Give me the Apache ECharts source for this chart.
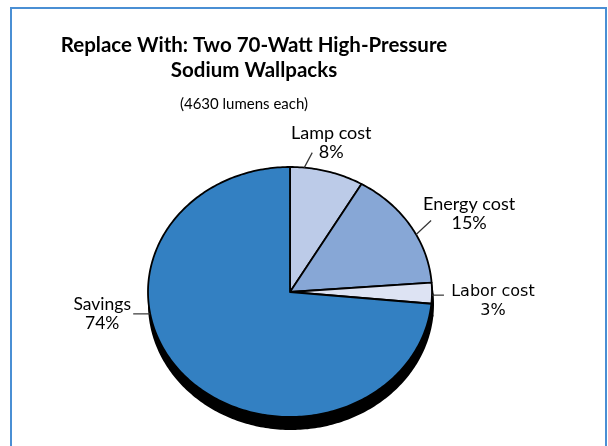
<!DOCTYPE html>
<html><head><meta charset="utf-8">
<script src="https://cdn.jsdelivr.net/npm/echarts@6/dist/echarts.min.js"></script>
<style>html,body{margin:0;padding:0;background:#fff}#c{width:608px;height:446px}</style>
</head><body><div id="c"></div>
<script>
// ---- data ----
const categories = ['Lamp cost', 'Energy cost', 'Labor cost', 'Savings'];
const shares = [8.4, 15.4, 2.7, 73.5];           // percent of total
const sliceColors = ['#bccbe8', '#87a7d6', '#dde3f3', '#3380c2'];
const titleText = 'Replace With: Two 70-Watt High-Pressure\nSodium Wallpacks';
const subtitleText = '(4630 lumens each)';

// label placement (style/layout only): anchor angle as a fraction of the turn, leader end offset, text offset
const labelLayout = [
  {at: 0.016, lx: 8,   ly: -15, tx: 27,  ty: -25, font: 'Lato', size: 18},
  {at: 0.174, lx: 15,  ly: -14, tx: 53,  ty: -21, font: 'Lato', size: 18},
  {at: 0.254, lx: 12,  ly: 0,   tx: 61,  ty: 6,   font: 'DejaVu Sans', size: 16},
  {at: 0.722, lx: -17, ly: 0,   tx: -48, ty: 0,   font: 'Lato', size: 17.5}
];

const total = shares.reduce((a, b) => a + b, 0);
let acc = 0;
const sliceData = shares.map((v, i) => {
  const s = acc / total; acc += v; const e = acc / total;
  return [s, e, i];
});

function ringPoint(api, f) {
  const t = f * 2 * Math.PI;
  return api.coord([Math.sin(t), Math.cos(t)]);
}
function sectorPoints(api, s, e) {
  const pts = [api.coord([0, 0])];
  const n = Math.max(4, Math.ceil((e - s) * 360));
  for (let i = 0; i <= n; i++) pts.push(ringPoint(api, s + (e - s) * i / n));
  return pts;
}

const chart = echarts.init(document.getElementById('c'), null, {renderer: 'canvas'});
chart.setOption({
  animation: false,
  backgroundColor: '#fff',
  graphic: [{
    type: 'rect', z: -10,
    shape: {x: 11, y: 8, width: 595, height: 480},
    style: {fill: 'none', stroke: '#4a8fd4', lineWidth: 2}
  }],
  title: [{
    text: titleText, left: 254, top: 33, padding: 0, textAlign: 'center',
    textStyle: {fontFamily: 'Lato', fontWeight: 'bold', fontSize: 20.5, lineHeight: 25, color: '#000'}
  }, {
    text: subtitleText, left: 244, top: 95, padding: 0, textAlign: 'center',
    textStyle: {fontFamily: 'Lato', fontWeight: 'normal', fontSize: 15, lineHeight: 18, color: '#000'}
  }],
  grid: {left: 148, top: 167, width: 284, height: 250},
  xAxis: {type: 'value', min: -1, max: 1, show: false},
  yAxis: {type: 'value', min: -1, max: 1, show: false},
  series: [{
    type: 'custom', z: 1, clip: false,
    data: sliceData,
    renderItem: (params, api) => {
      const s = api.value(0), e = api.value(1);
      return {
        type: 'polygon', x: 1, y: 12,
        shape: {points: sectorPoints(api, s, e)},
        style: {fill: '#000', stroke: '#000', lineWidth: 2}
      };
    }
  }, {
    type: 'custom', z: 2, clip: false,
    data: sliceData,
    renderItem: (params, api) => {
      const s = api.value(0), e = api.value(1), i = api.value(2);
      const L = labelLayout[i];
      const a = ringPoint(api, L.at);
      return {
        type: 'group',
        children: [{
          type: 'polygon',
          shape: {points: sectorPoints(api, s, e)},
          style: {fill: sliceColors[i], stroke: '#000', lineWidth: 1.8, lineJoin: 'round'}
        }, {
          type: 'line',
          shape: {x1: a[0], y1: a[1], x2: a[0] + L.lx, y2: a[1] + L.ly},
          style: {stroke: '#333', lineWidth: 1.2}
        }, {
          type: 'text',
          x: a[0] + L.tx, y: a[1] + L.ty,
          style: {
            text: categories[i] + '\n' + Math.round(shares[i]) + '%',
            align: 'center', verticalAlign: 'middle',
            fontFamily: L.font, fontSize: L.size, lineHeight: 18.5, fill: '#000'
          }
        }]
      };
    }
  }]
});
</script>
</body></html>
